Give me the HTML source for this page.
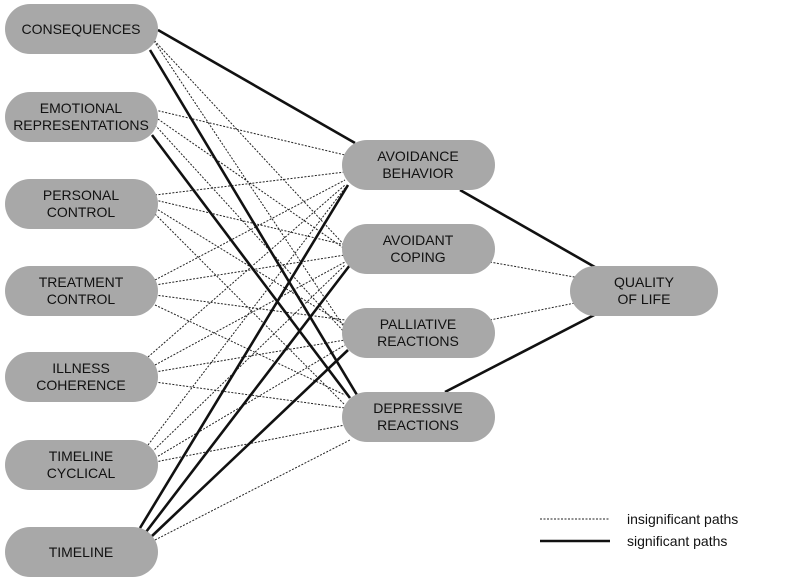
<!DOCTYPE html>
<html><head><style>
body{margin:0;background:#fff;}
svg text{font-family:"Liberation Sans",sans-serif;font-size:14px;fill:#111;text-anchor:middle;}
</style></head><body>
<svg width="797" height="582" viewBox="0 0 797 582" xmlns="http://www.w3.org/2000/svg">
<g stroke="#222" stroke-width="1" stroke-dasharray="2,1.5" fill="none">
<line x1="152" y1="38" x2="348" y2="249"/><line x1="152" y1="38" x2="348" y2="333"/>
<line x1="155" y1="110" x2="345" y2="155"/><line x1="155" y1="117" x2="345" y2="249"/><line x1="155" y1="125" x2="345" y2="333"/>
<line x1="155" y1="195" x2="345" y2="172"/><line x1="155" y1="200" x2="345" y2="245"/><line x1="155" y1="208" x2="345" y2="325"/><line x1="155" y1="214" x2="345" y2="405"/>
<line x1="155" y1="280" x2="345" y2="180"/><line x1="155" y1="285" x2="345" y2="255"/><line x1="155" y1="295" x2="345" y2="320"/><line x1="155" y1="305" x2="345" y2="395"/>
<line x1="148" y1="357" x2="345" y2="185"/><line x1="155" y1="365" x2="345" y2="262"/><line x1="155" y1="372" x2="345" y2="340"/><line x1="155" y1="382" x2="345" y2="408"/>
<line x1="148" y1="445" x2="345" y2="188"/><line x1="152" y1="452" x2="345" y2="265"/><line x1="155" y1="458" x2="345" y2="345"/><line x1="155" y1="462" x2="345" y2="425"/>
<line x1="155" y1="540" x2="350" y2="440"/>
<line x1="490" y1="262" x2="580" y2="278"/><line x1="490" y1="320" x2="580" y2="302"/>
<line x1="540" y1="519" x2="610" y2="519"/>
</g>
<g stroke="#111" stroke-width="2.6" fill="none">
<line x1="158" y1="30" x2="355" y2="143"/><line x1="150" y1="50" x2="357" y2="395"/>
<line x1="152" y1="135" x2="350" y2="398"/>
<line x1="140" y1="528" x2="348" y2="185"/><line x1="146" y1="532" x2="350" y2="265"/><line x1="152" y1="536" x2="348" y2="350"/>
<line x1="460" y1="190" x2="600" y2="270"/><line x1="445" y1="392" x2="600" y2="312"/>
<line x1="540" y1="541" x2="610" y2="541"/>
</g>
<g fill="#a8a8a8">
<rect x="5" y="4" width="153" height="50" rx="25"/>
<rect x="5" y="92" width="153" height="50" rx="25"/>
<rect x="5" y="179" width="153" height="50" rx="25"/>
<rect x="5" y="266" width="153" height="50" rx="25"/>
<rect x="5" y="352" width="153" height="50" rx="25"/>
<rect x="5" y="440" width="153" height="50" rx="25"/>
<rect x="5" y="527" width="153" height="50" rx="25"/>
<rect x="342" y="140" width="153" height="50" rx="25"/>
<rect x="342" y="224" width="153" height="50" rx="25"/>
<rect x="342" y="308" width="153" height="50" rx="25"/>
<rect x="342" y="392" width="153" height="50" rx="25"/>
<rect x="570" y="266" width="148" height="50" rx="25"/>
</g>
<text x="81" y="34">CONSEQUENCES</text>
<text x="81" y="113">EMOTIONAL</text><text x="81" y="130">REPRESENTATIONS</text>
<text x="81" y="200">PERSONAL</text><text x="81" y="217">CONTROL</text>
<text x="81" y="287">TREATMENT</text><text x="81" y="304">CONTROL</text>
<text x="81" y="373">ILLNESS</text><text x="81" y="390">COHERENCE</text>
<text x="81" y="461">TIMELINE</text><text x="81" y="478">CYCLICAL</text>
<text x="81" y="557">TIMELINE</text>
<text x="418" y="161">AVOIDANCE</text><text x="418" y="178">BEHAVIOR</text>
<text x="418" y="245">AVOIDANT</text><text x="418" y="262">COPING</text>
<text x="418" y="329">PALLIATIVE</text><text x="418" y="346">REACTIONS</text>
<text x="418" y="413">DEPRESSIVE</text><text x="418" y="430">REACTIONS</text>
<text x="644" y="287">QUALITY</text><text x="644" y="304">OF LIFE</text>
<text x="627" y="524" style="text-anchor:start;font-size:14px">insignificant paths</text>
<text x="627" y="546" style="text-anchor:start;font-size:14px">significant paths</text>
</svg>
</body></html>
